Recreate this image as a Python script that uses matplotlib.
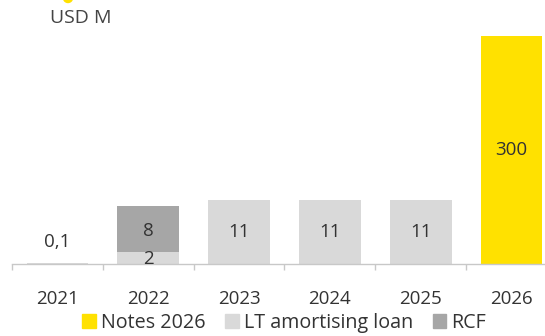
import numpy as np
import matplotlib.pyplot as plt
from matplotlib.patches import Ellipse

plt.rcParams['font.family'] = ['Open Sans', 'DejaVu Sans']

# --- data ---
years = ['2021', '2022', '2023', '2024', '2025', '2026']
notes_2026 = [0, 0, 0, 0, 0, 300]
lt_loan = [0.1, 2, 11, 11, 11, 0]
rcf = [0, 8, 0, 0, 0, 0]
labels_notes = ['', '', '', '', '', '300']
labels_lt = ['0,1', '2', '11', '11', '11', '']
labels_rcf = ['', '8', '', '', '', '']

YELLOW = '#FFE100'
LIGHT = '#D9D9D9'
DARK = '#A6A6A6'
TXT = '#333333'

# broken-ish value axis: linear up to 15, compressed above
BRK, K = 15.0, 0.0853


def fwd(v):
    v = np.asarray(v, dtype=float)
    return np.where(v <= BRK, v, BRK + (v - BRK) * K)


def inv(t):
    t = np.asarray(t, dtype=float)
    return np.where(t <= BRK, t, BRK + (t - BRK) / K)


fig = plt.figure(figsize=(5.45, 3.36), dpi=100)
ax = fig.add_axes([12 / 545, 72 / 336, 533 / 545, 264 / 336])
ax.set_yscale('function', functions=(fwd, inv))

x = np.arange(len(years))
w = 0.68
lt = np.array(lt_loan)
rc = np.array(rcf)
nt = np.array(notes_2026)
ax.bar(x, lt, w, color=LIGHT, zorder=2)
ax.bar(x, rc, w, bottom=lt, color=DARK, zorder=2)
ax.bar(x, nt, w, bottom=lt + rc, color=YELLOW, zorder=2)

fs = 13.5
for i in range(len(years)):
    if labels_lt[i]:
        if lt[i] < 1:
            ax.annotate(labels_lt[i], (x[i], lt[i]), xytext=(0, 21), textcoords='offset pixels',
                        ha='center', va='center', fontsize=fs, color=TXT)
        elif rc[i] > 0:
            ax.annotate(labels_lt[i], (x[i], 0), xytext=(0, 5), textcoords='offset pixels',
                        ha='center', va='center', fontsize=fs, color=TXT)
        else:
            ax.text(x[i], lt[i] / 2, labels_lt[i], ha='center', va='center', fontsize=fs, color=TXT)
    if labels_rcf[i]:
        ax.text(x[i], lt[i] + rc[i] / 2 - 0.3, labels_rcf[i], ha='center', va='center', fontsize=fs, color=TXT)
    if labels_notes[i]:
        ax.text(x[i], float(inv(fwd(nt[i]) / 2)), labels_notes[i], ha='center', va='center',
                fontsize=fs, color=TXT)

ax.set_xlim(-0.5, 5.368)
ax.set_ylim(0, float(inv(45.5)))
ax.set_yticks([])
for s in ['top', 'right', 'left']:
    ax.spines[s].set_visible(False)
ax.spines['bottom'].set_color('#C8C8C8')
ax.spines['bottom'].set_linewidth(1)

ax.set_xticks(x)
ax.set_xticklabels(years, fontsize=fs, color=TXT)
ax.set_xticks(np.arange(-0.5, 5.0, 1.0), minor=True)
ax.tick_params(axis='x', which='major', length=0, pad=19)
ax.tick_params(axis='x', which='minor', length=4.5, color='#C8C8C8', width=1)

fig.text(50 / 545, 1 - 18 / 336, 'USD M', fontsize=14, color='#444444', va='center', ha='left')
fig.add_artist(Ellipse((68 / 545, 1 + 2 / 336), 9 / 545, 9 / 336, transform=fig.transFigure,
                       color=YELLOW, clip_on=False))

handles = [plt.Rectangle((0, 0), 1, 1, color=c) for c in (YELLOW, LIGHT, DARK)]
fig.legend(handles, ['Notes 2026', 'LT amortising loan', 'RCF'], loc='center',
           bbox_to_anchor=(284 / 545, 1 - 323 / 336), ncol=3, frameon=False, fontsize=14.2,
           handlelength=0.7, handleheight=0.7, handletextpad=0.25, columnspacing=1.0,
           labelcolor=TXT, borderpad=0)

fig.savefig('out.png', dpi=100)
